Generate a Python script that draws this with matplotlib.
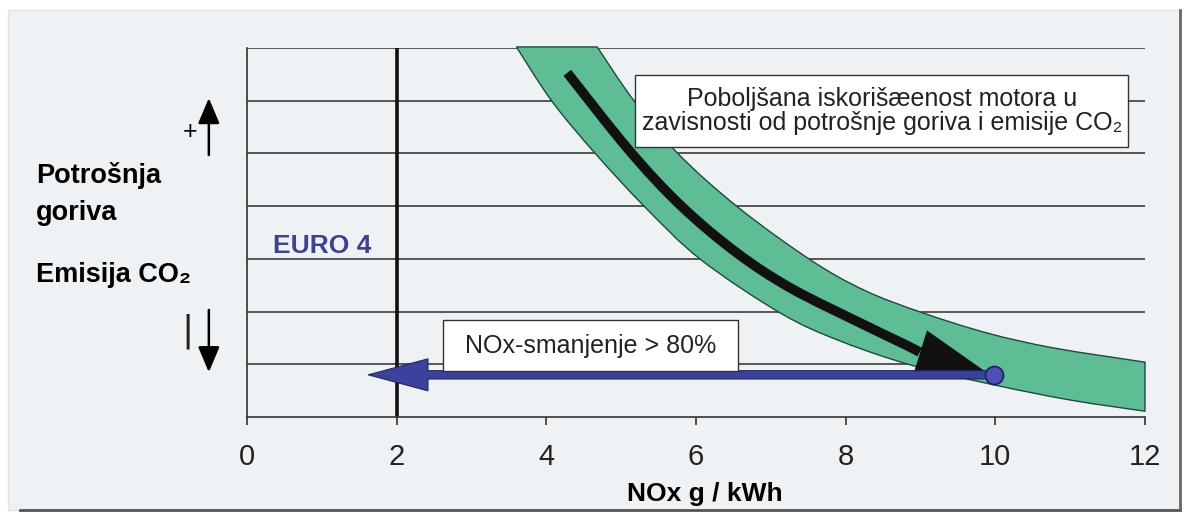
import numpy as np
import matplotlib
matplotlib.use('Agg')
import matplotlib.pyplot as plt
from matplotlib.patches import Rectangle, PathPatch
from matplotlib.path import Path

plt.rcParams['font.family'] = ['Liberation Sans', 'DejaVu Sans']

# podaci ocitani sa slike
x_ticks = [0, 2, 4, 6, 8, 10, 12]
grid_levels = [1, 2, 3, 4, 5, 6, 7]
euro4_limit = 2.0

# zeleni pojas (gornji/desni i donji/lijevi rub)
band_upper_x = [4.68, 5.16, 5.75, 6.56, 7.53, 8.24, 9.00, 9.90, 10.78, 12.0]
band_upper_y = [7.02, 6.02, 5.01, 3.98, 2.98, 2.41, 1.99, 1.59, 1.31, 1.04]
band_lower_x = [3.60, 4.08, 4.66, 5.32, 6.06, 7.13, 7.93, 8.91, 9.98, 11.01, 12.0]
band_lower_y = [7.02, 5.98, 4.99, 3.98, 2.99, 1.97, 1.44, 0.97, 0.61, 0.32, 0.11]

# crna strelica kroz pojas
path_x = [4.28, 5.10, 5.79, 6.53, 7.26, 8.20, 8.80, 8.99]
path_y = [6.53, 5.07, 4.02, 3.13, 2.45, 1.78, 1.37, 1.23]
path_tip = (9.90, 0.83)

# plava strelica (smanjenje NOx)
nox_start = 9.98
nox_end = 1.62
nox_level = 0.80


def smooth(xs, ys):
    # glatka krivulja (Catmull-Rom -> Bezier) kroz ocitane tocke
    p = np.column_stack([xs, ys])
    n = len(p)
    verts = [p[0]]
    for i in range(n - 1):
        a = p[i - 1] if i > 0 else p[i]
        d = p[i + 2] if i + 2 < n else p[i + 1]
        verts += [p[i] + (p[i + 1] - a) / 6, p[i + 1] - (d - p[i]) / 6, p[i + 1]]
    return np.array(verts)


fig = plt.figure(figsize=(11.9, 5.13), dpi=100)
fig.patch.set_facecolor('white')
# okvir slike
fig.patches.append(Rectangle((8 / 1190, 3 / 513), 1172 / 1190, 500 / 513,
                             transform=fig.transFigure, facecolor='#eef2f5',
                             edgecolor='#dde3e8', lw=1, zorder=-10))
fig.add_artist(plt.Line2D([20 / 1190, 1180 / 1190], [3 / 513, 3 / 513],
                          transform=fig.transFigure, color='#555555', lw=2, zorder=-5))
fig.add_artist(plt.Line2D([1180 / 1190, 1180 / 1190], [3 / 513, 503 / 513],
                          transform=fig.transFigure, color='#666666', lw=2, zorder=-5))

ax = fig.add_axes([247 / 1190, 1 - 417 / 513, 898 / 1190, 369 / 513])
ax.set_facecolor('none')
ax.set_xlim(0, 12)
ax.set_ylim(0, 7)

# horizontalne linije
ax.hlines(grid_levels, 0, 12, color='#3c3c3c', lw=1.2, zorder=1)
ax.vlines(euro4_limit, 0, 7, color='#111111', lw=2.6, zorder=2)

# zeleni pojas
up = smooth(band_upper_x, band_upper_y)
lo = smooth(band_lower_x[::-1], band_lower_y[::-1])
verts = np.vstack([up, lo, up[:1]])
codes = ([Path.MOVETO] + [Path.CURVE4] * (len(up) - 1) + [Path.LINETO]
         + [Path.CURVE4] * (len(lo) - 1) + [Path.CLOSEPOLY])
ax.add_patch(PathPatch(Path(verts, codes), facecolor='#5ebd95', edgecolor='#1f4a38',
                       lw=1.0, zorder=3, clip_on=False))

# crna strelica
sv = smooth(path_x, path_y)
scodes = [Path.MOVETO] + [Path.CURVE4] * (len(sv) - 1)
ax.add_patch(PathPatch(Path(sv, scodes), fill=False, edgecolor='#111111', lw=7,
                       capstyle='butt', zorder=4))
ax.annotate('', xy=path_tip, xytext=(path_x[-1], path_y[-1]),
            arrowprops=dict(arrowstyle='-|>,head_length=51,head_width=16.5',
                            mutation_scale=1, lw=0, color='#111111',
                            shrinkA=0, shrinkB=0), zorder=5)

# plava strelica
ax.annotate('', xy=(nox_end, nox_level), xytext=(nox_start, nox_level),
            arrowprops=dict(arrowstyle='simple,head_length=43,head_width=23,tail_width=6',
                            mutation_scale=1, fc='#3c419e', ec='#22265e', lw=0.8,
                            shrinkA=0, shrinkB=0), zorder=6, annotation_clip=False)
ax.plot(nox_start, nox_level, 'o', ms=13, mfc='#4a50b4', mec='#1d2060', mew=1.2,
        zorder=7)

# okviri s tekstom
ax.add_patch(Rectangle((5.18, 5.12), 6.59, 1.37, facecolor='white', edgecolor='#333333',
                       lw=1.0, zorder=6))
ax.text(8.49, 5.80, 'Poboljšana iskorišæenost motora u\nzavisnosti od potrošnje goriva i emisije CO₂',
        ha='center', va='center', fontsize=18, linespacing=1.0, color='#222222', zorder=7)
ax.add_patch(Rectangle((2.62, 0.87), 3.94, 0.97, facecolor='white', edgecolor='#333333',
                       lw=1.0, zorder=6))
ax.text(4.59, 1.34, 'NOx-smanjenje > 80%', ha='center', va='center', fontsize=18,
        color='#222222', zorder=7)

ax.text(0.35, 3.11, 'EURO 4', fontsize=19, fontweight='bold', color='#3d418f',
        va='baseline', zorder=7)

# strelice uz os y
ax.annotate('', xy=(-0.51, 6.05), xytext=(-0.51, 4.97),
            arrowprops=dict(arrowstyle='-|>,head_length=1.3,head_width=0.55',
                            mutation_scale=12, lw=1.8, color='black', shrinkA=0, shrinkB=0),
            annotation_clip=False)
ax.annotate('', xy=(-0.51, 0.85), xytext=(-0.51, 2.03),
            arrowprops=dict(arrowstyle='-|>,head_length=1.3,head_width=0.55',
                            mutation_scale=12, lw=1.8, color='black', shrinkA=0, shrinkB=0),
            annotation_clip=False)
ax.text(-0.76, 5.41, '+', fontsize=18, ha='center', va='center', clip_on=False)
ax.text(-0.79, 1.62, '|', fontsize=26, family=['DejaVu Sans'], ha='center', va='center',
        color='#222222', clip_on=False)

fig.text(36 / 1190, 1 - 183 / 513, 'Potrošnja', fontsize=19.5, fontweight='bold', va='baseline')
fig.text(36 / 1190, 1 - 220 / 513, 'goriva', fontsize=19.5, fontweight='bold', va='baseline')
fig.text(36 / 1190, 1 - 282 / 513, 'Emisija CO₂', fontsize=19.5, fontweight='bold', va='baseline')

# osi
for s in ['top', 'right']:
    ax.spines[s].set_visible(False)
ax.spines['left'].set_color('#333333')
ax.spines['bottom'].set_color('#333333')
ax.spines['left'].set_linewidth(1.2)
ax.spines['bottom'].set_linewidth(1.2)
ax.set_xticks(x_ticks)
ax.set_xticklabels([str(t) for t in x_ticks])
ax.set_yticks([])
ax.tick_params(axis='x', direction='out', length=6, width=1.2, color='#333333',
               pad=13, labelsize=21, labelcolor='#222222')
ax.set_xlabel('NOx g / kWh', fontsize=19, fontweight='bold')
ax.xaxis.set_label_coords(0.51, -0.175)

fig.savefig('out.png', dpi=100)
